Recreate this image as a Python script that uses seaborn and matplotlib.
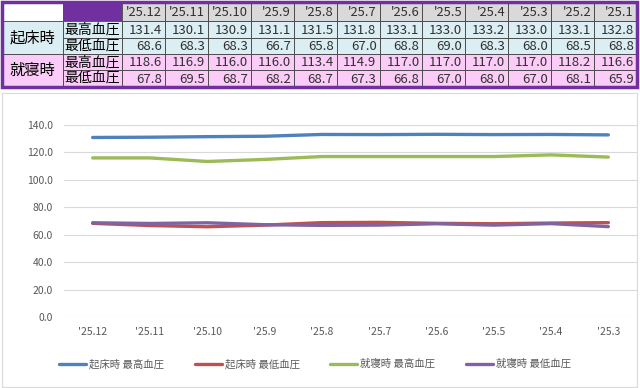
import numpy as np
import pandas as pd
import matplotlib
matplotlib.use("Agg")
import matplotlib.pyplot as plt
from matplotlib.patches import Rectangle
import seaborn as sns

# ---------------- data ----------------
months = ["'25.12", "'25.11", "'25.10", "'25.9", "'25.8", "'25.7",
          "'25.6", "'25.5", "'25.4", "'25.3", "'25.2", "'25.1"]
wake_sys = [131.4, 130.1, 130.9, 131.1, 131.5, 131.8, 133.1, 133.0, 133.2, 133.0, 133.1, 132.8]
wake_dia = [68.6, 68.3, 68.3, 66.7, 65.8, 67.0, 68.8, 69.0, 68.3, 68.0, 68.5, 68.8]
bed_sys = [118.6, 116.9, 116.0, 116.0, 113.4, 114.9, 117.0, 117.0, 117.0, 117.0, 118.2, 116.6]
bed_dia = [67.8, 69.5, 68.7, 68.2, 68.7, 67.3, 66.8, 67.0, 68.0, 67.0, 68.1, 65.9]

group_labels = ["起床時", "就寝時"]
row_labels = ["最高血圧", "最低血圧"]
series_names = ["起床時 最高血圧", "起床時 最低血圧", "就寝時 最高血圧", "就寝時 最低血圧"]

# chart as drawn: ten category labels, values taken from the table columns shown
chart_labels = months[:10]
chart_values = [wake_sys[2:], wake_dia[2:], bed_sys[2:], bed_dia[2:]]

colors = ["#4f81bd", "#c0504d", "#9bbb59", "#8064a2"]

# ---------------- figure ----------------
sns.set_theme(style="white")
plt.rcParams["font.family"] = ["Noto Sans CJK JP", "DejaVu Sans"]

W, H = 640, 388
fig = plt.figure(figsize=(W / 100, H / 100), dpi=100)

# ---------- table (pixel-coordinate overlay) ----------
tab = fig.add_axes([0, 0, 1, 1])
tab.set_xlim(0, W)
tab.set_ylim(H, 0)
tab.axis("off")

purple = "#7030a0"
blue_bg = "#dbeef3"
pink_bg = "#fcccf8"
gray_bg = "#d9d9d9"
line_c = "#404040"
txt_c = "#303030"

x0, x1, x2, xe = 2, 63, 122, 637
col_w = (xe - x2) / len(months)
row_y = [2, 21, 38, 54, 70, 87]

# header
tab.add_patch(Rectangle((x0, row_y[0]), x1 - x0, row_y[1] - row_y[0], fc="white", ec="none"))
tab.add_patch(Rectangle((x1, row_y[0]), x2 - x1, row_y[1] - row_y[0], fc=purple, ec="none"))
for i, m in enumerate(months):
    cx = x2 + i * col_w
    tab.add_patch(Rectangle((cx, row_y[0]), col_w, row_y[1] - row_y[0], fc=gray_bg, ec=line_c, lw=0.6))
    tab.text(cx + col_w - 3, (row_y[0] + row_y[1]) / 2 + 1, m, ha="right", va="center",
             fontsize=9.3, color=txt_c)

table_rows = [wake_sys, wake_dia, bed_sys, bed_dia]
for r, vals in enumerate(table_rows):
    bg = blue_bg if r < 2 else pink_bg
    ya, yb = row_y[r + 1], row_y[r + 2]
    tab.add_patch(Rectangle((x1, ya), x2 - x1, yb - ya, fc=bg, ec=line_c, lw=0.6))
    tab.text((x1 + x2) / 2, (ya + yb) / 2 + 0.5, row_labels[r % 2], ha="center", va="center",
             fontsize=10, color="black")
    for i, v in enumerate(vals):
        cx = x2 + i * col_w
        tab.add_patch(Rectangle((cx, ya), col_w, yb - ya, fc=bg, ec=line_c, lw=0.6))
        tab.text(cx + col_w - 3, (ya + yb) / 2 + 1, f"{v:.1f}", ha="right", va="center",
                 fontsize=9.5, color=txt_c)

for g in range(2):
    ya, yb = row_y[1 + 2 * g], row_y[3 + 2 * g]
    bg = blue_bg if g == 0 else pink_bg
    tab.add_patch(Rectangle((x0, ya), x1 - x0, yb - ya, fc=bg, ec=line_c, lw=0.6))
    tab.text((x0 + x1) / 2, (ya + yb) / 2, group_labels[g], ha="center", va="center",
             fontsize=11, color="black")

tab.add_patch(Rectangle((x0, row_y[0]), xe - x0, row_y[-1] - row_y[0], fc="none", ec=purple, lw=2.5))

# chart frame
tab.add_patch(Rectangle((2, 93), 635, 294, fc="none", ec="#d9d9d9", lw=0.8))

# ---------- line chart ----------
left, right = 64 / W, 637 / W
bottom, top = 1 - 317 / H, 1 - 125 / H
ax = fig.add_axes([left, bottom, right - left, top - bottom])
ax.set_facecolor("none")

df = pd.DataFrame({
    "month": np.tile(chart_labels, len(series_names)),
    "value": np.concatenate(chart_values),
    "series": np.repeat(series_names, len(chart_labels)),
})
sns.lineplot(data=df, x="month", y="value", hue="series", palette=colors, sort=False,
             linewidth=2.4, ax=ax, legend=True)

ax.set_xlim(-0.5, len(chart_labels) - 0.5)
ax.set_ylim(0, 140)
ax.set_yticks(np.arange(0, 141, 20))
ax.set_yticklabels([f"{v:.1f}" for v in np.arange(0, 141, 20)])
ax.grid(axis="y", color="#d9d9d9", lw=0.8)
ax.grid(axis="x", visible=False)
for s in ax.spines.values():
    s.set_visible(False)
ax.set_xlabel("")
ax.set_ylabel("")
ax.tick_params(axis="y", labelsize=7.5, labelcolor="#595959", length=0, pad=8)
ax.tick_params(axis="x", labelsize=7.5, labelcolor="#595959", length=0, pad=7)

handles, labels = ax.get_legend_handles_labels()
ax.get_legend().remove()
leg = fig.legend(handles, labels, loc="center", bbox_to_anchor=(315 / W, 1 - 364 / H),
                 ncol=4, frameon=False, fontsize=7.5, handlelength=2.6, handletextpad=0.3,
                 columnspacing=2.9)
for t in leg.get_texts():
    t.set_color("#595959")
for l in leg.get_lines():
    l.set_linewidth(2.4)

fig.savefig("out.png", dpi=100)
